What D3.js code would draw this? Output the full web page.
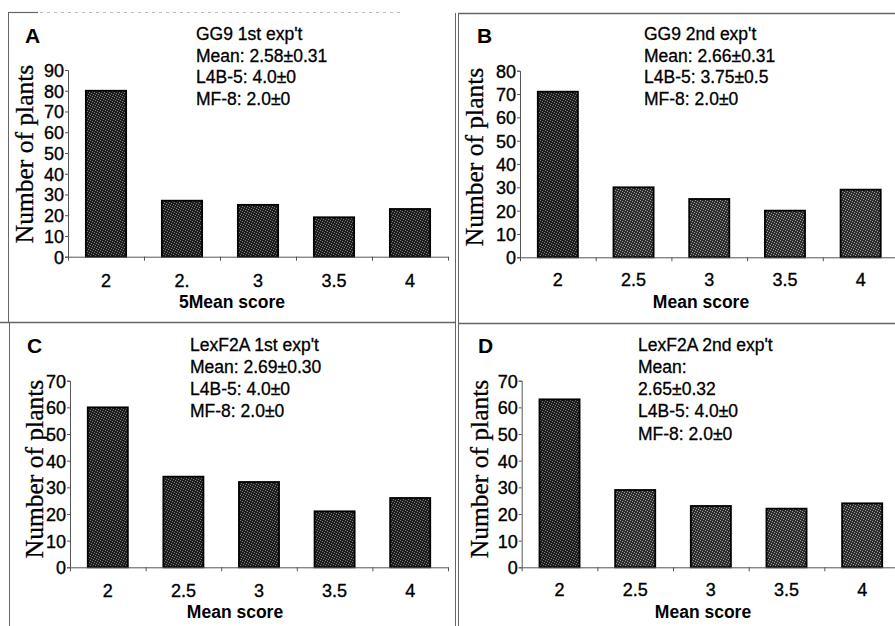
<!DOCTYPE html>
<html>
<head>
<meta charset="utf-8">
<script src="https://cdn.jsdelivr.net/npm/d3@7"></script>
<style>
  body { margin: 0; background: #fff; }
  svg { display: block; }
  .tick text { font-family: "Liberation Sans", Arial, sans-serif; fill: #000; stroke: #000; stroke-width: 0.35px; }
  .ink { stroke: #000; stroke-width: 0.3px; }
</style>
</head>
<body>
<svg id="fig"></svg>
<script>
// scores on the x axis (same for every panel)
const categories = ['2', '2.5', '3', '3.5', '4']

// tick labels as printed (panel A has the misplaced "5")
const tickLabelsA = ['2', '2.', '3', '3.5', '4']
const tickLabelsB = ['2', '2.5', '3', '3.5', '4']
const tickLabelsC = ['2', '2.5', '3', '3.5', '4']
const tickLabelsD = ['2', '2.5', '3', '3.5', '4']

// number of plants per score
const valuesA = [80, 27, 25, 19, 23]
const valuesB = [71, 30, 25, 20, 29]
const valuesC = [60, 34, 32, 21, 26]
const valuesD = [63, 29, 23, 22, 24]

const yTicksA = [0, 10, 20, 30, 40, 50, 60, 70, 80, 90]
const yTicksB = [0, 10, 20, 30, 40, 50, 60, 70, 80]
const yTicksC = [0, 10, 20, 30, 40, 50, 60, 70]
const yTicksD = [0, 10, 20, 30, 40, 50, 60, 70]

const notesA = ["GG9 1st exp't", 'Mean: 2.58\u00b10.31', 'L4B-5: 4.0\u00b10', 'MF-8: 2.0\u00b10']
const notesB = ["GG9 2nd exp't", 'Mean: 2.66\u00b10.31', 'L4B-5: 3.75\u00b10.5', 'MF-8: 2.0\u00b10']
const notesC = ["LexF2A 1st exp't", 'Mean: 2.69\u00b10.30', 'L4B-5: 4.0\u00b10', 'MF-8: 2.0\u00b10']
const notesD = ["LexF2A 2nd exp't", 'Mean:', '2.65\u00b10.32', 'L4B-5: 4.0\u00b10', 'MF-8: 2.0\u00b10']

const xTitleA = '5Mean score'
const xTitle = 'Mean score'
const yTitle = 'Number of plants'

const W = 895, H = 626
const svg = d3.select('#fig').attr('width', W).attr('height', H)

// stippled fills imitating the scanned print
const defs = svg.append('defs')
const makePattern = (id, base, dots) => {
  const p = defs.append('pattern').attr('id', id)
    .attr('patternUnits', 'userSpaceOnUse').attr('width', 5).attr('height', 5)
  p.append('rect').attr('width', 5).attr('height', 5).attr('fill', base)
  ;[[0,0],[2,1],[4,2],[1,3],[3,4]].forEach(([x, y]) => {
    p.append('rect').attr('x', x).attr('y', y).attr('width', 1).attr('height', 1).attr('fill', dots)
  })
}
makePattern('darkFill', '#1e1e1e', '#7a7a7a')
makePattern('midFill', '#2e2e2e', '#999')

// frame lines of the scanned figure
const frame = svg.append('g').attr('stroke', '#666').attr('fill', 'none')
frame.append('line').attr('x1', 8).attr('y1', 12.5).attr('x2', 38).attr('y2', 12.5).attr('stroke-width', 1.2)
frame.append('line').attr('x1', 40).attr('y1', 12.5).attr('x2', 400).attr('y2', 12.5)
  .attr('stroke', '#bbb').attr('stroke-dasharray', '3,4')
frame.append('line').attr('x1', 8.5).attr('y1', 12).attr('x2', 8.5).attr('y2', 322)
frame.append('line').attr('x1', 9.5).attr('y1', 323).attr('x2', 9.5).attr('y2', 626)
frame.append('line').attr('x1', 455.5).attr('y1', 13).attr('x2', 455.5).attr('y2', 626)
frame.append('line').attr('x1', 458.5).attr('y1', 13).attr('x2', 458.5).attr('y2', 626)
frame.append('line').attr('x1', 458).attr('y1', 13.5).attr('x2', 895).attr('y2', 13.5).attr('stroke-width', 1.3)
frame.append('line').attr('x1', 0).attr('y1', 322.5).attr('x2', 456).attr('y2', 322.5).attr('stroke-width', 1.3)
frame.append('line').attr('x1', 459).attr('y1', 323.5).attr('x2', 895).attr('y2', 323.5).attr('stroke-width', 1.3)

const panels = [
  { letter: 'A', values: valuesA, labels: tickLabelsA, yTicks: yTicksA, notes: notesA, xTitle: xTitleA,
    left: 68, right: 448, y0: 256.7, yTop: 70, letterPos: [25, 43], notePos: [196, 40], noteGap: 21.7,
    yTitlePos: [33, 154], xLabelY: 287, xTitlePos: [232, 308], fills: ['darkFill', 'darkFill'] },
  { letter: 'B', values: valuesB, labels: tickLabelsB, yTicks: yTicksB, notes: notesB, xTitle: xTitle,
    left: 520, right: 898.5, y0: 257.3, yTop: 70.7, letterPos: [477, 43], notePos: [644, 40], noteGap: 21.7,
    yTitlePos: [483, 157], xLabelY: 286, xTitlePos: [701, 308], fills: ['darkFill', 'midFill'] },
  { letter: 'C', values: valuesC, labels: tickLabelsC, yTicks: yTicksC, notes: notesC, xTitle: xTitle,
    left: 70, right: 448, y0: 567.3, yTop: 380.7, letterPos: [27, 353], notePos: [190, 350.7], noteGap: 22,
    yTitlePos: [43, 469], xLabelY: 596.7, xTitlePos: [235, 618], fills: ['darkFill', 'darkFill'] },
  { letter: 'D', values: valuesD, labels: tickLabelsD, yTicks: yTicksD, notes: notesD, xTitle: xTitle,
    left: 521.7, right: 900, y0: 567.3, yTop: 380.7, letterPos: [478, 353], notePos: [638, 350.7], noteGap: 22.2,
    yTitlePos: [487.5, 469], xLabelY: 596, xTitlePos: [703, 618], fills: ['darkFill', 'midFill'] }
]

panels.forEach(p => {
  const g = svg.append('g')
  const yMax = p.yTicks[p.yTicks.length - 1]

  const x = d3.scaleBand()
    .domain(categories)
    .range([p.left, p.right])
    .paddingInner(0.47)
    .paddingOuter(0.235)
  const xEdge = d3.scaleLinear().domain([0, categories.length]).range([p.left, p.right])
  const y = d3.scaleLinear().domain([0, yMax]).range([p.y0, p.yTop])

  // bars
  g.selectAll('.bar')
    .data(p.values)
    .enter().append('rect')
      .attr('class', 'bar')
      .attr('x', (d, i) => x(categories[i]))
      .attr('width', x.bandwidth())
      .attr('y', d => y(d))
      .attr('height', d => y(0) - y(d))
      .attr('fill', (d, i) => `url(#${i === 0 ? p.fills[0] : p.fills[1]})`)
      .attr('stroke', '#000')
      .attr('stroke-width', 1.8)

  // y axis
  const yAxis = d3.axisLeft(y).tickValues(p.yTicks).tickSize(3).tickPadding(1)
  const gy = g.append('g').attr('transform', `translate(${p.left},0)`).call(yAxis)
  gy.selectAll('path, line').attr('stroke', '#555')
  gy.selectAll('text').attr('font-size', 18).attr('dy', '0.36em')

  // x axis: line + ticks at category boundaries
  const xAxisTicks = d3.axisBottom(xEdge).tickValues(d3.range(categories.length + 1))
    .tickSize(4).tickSizeOuter(0).tickFormat('')
  const gx = g.append('g').attr('transform', `translate(0,${p.y0})`).call(xAxisTicks)
  gx.selectAll('path, line').attr('stroke', '#555')

  // x tick labels at band centres
  const xAxisLabels = d3.axisBottom(x).tickSize(0).tickSizeOuter(0)
    .tickFormat((d, i) => p.labels[i])
  const gl = g.append('g').attr('transform', `translate(0,${p.xLabelY})`).call(xAxisLabels)
  gl.select('.domain').remove()
  gl.selectAll('text').attr('font-size', 18).attr('dy', 0).attr('y', 0)

  // x title
  g.append('text')
    .attr('x', p.xTitlePos[0]).attr('y', p.xTitlePos[1])
    .attr('text-anchor', 'middle')
    .attr('font-family', '"Liberation Sans", Arial, sans-serif')
    .attr('font-weight', 'bold').attr('font-size', 17.5).attr('fill', '#000')
    .text(p.xTitle)

  // y title
  g.append('text')
    .attr('class', 'ink')
    .attr('transform', `translate(${p.yTitlePos[0]},${p.yTitlePos[1]}) rotate(-90)`)
    .attr('text-anchor', 'middle')
    .attr('font-family', '"Liberation Serif", "Times New Roman", serif')
    .attr('font-size', 25.5).attr('fill', '#000')
    .text(yTitle)

  // panel letter
  g.append('text')
    .attr('x', p.letterPos[0]).attr('y', p.letterPos[1])
    .attr('font-family', '"Liberation Sans", Arial, sans-serif')
    .attr('font-weight', 'bold').attr('font-size', 21).attr('fill', '#000')
    .text(p.letter)

  // annotation block
  g.selectAll('.note')
    .data(p.notes)
    .enter().append('text')
      .attr('class', 'note ink')
      .attr('x', p.notePos[0])
      .attr('y', (d, i) => p.notePos[1] + i * p.noteGap)
      .attr('font-family', '"Liberation Sans", Arial, sans-serif')
      .attr('font-size', 17.5).attr('fill', '#000')
      .text(d => d)
})
</script>
</body>
</html>
